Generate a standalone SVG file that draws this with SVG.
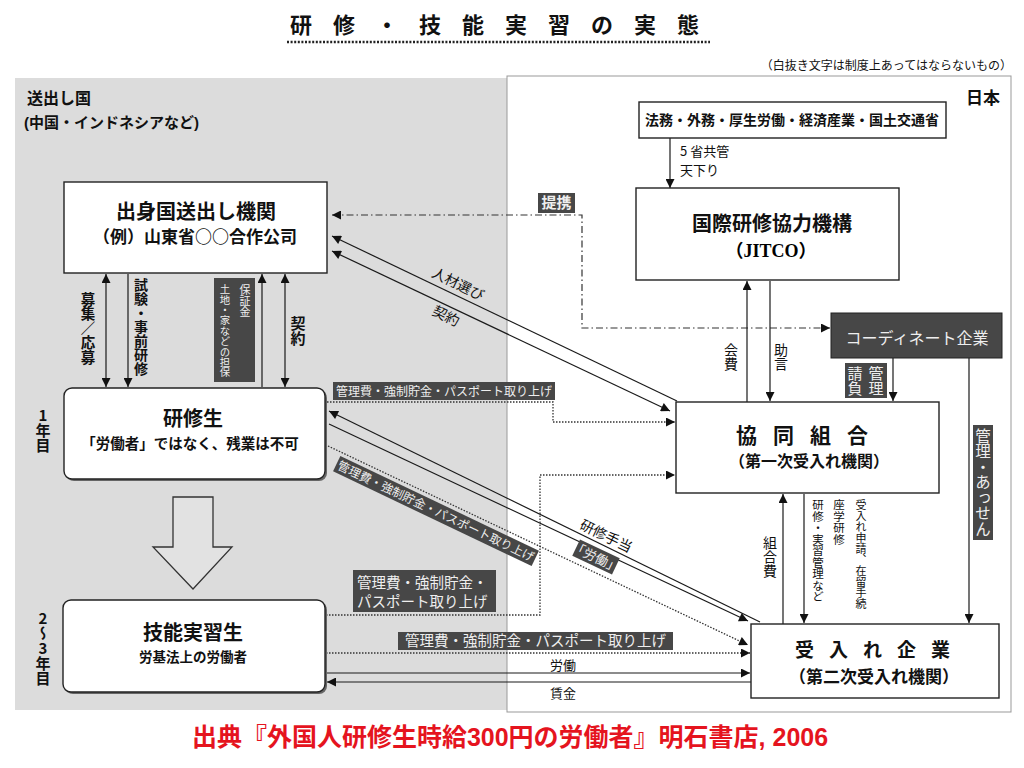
<svg xmlns="http://www.w3.org/2000/svg" width="1024" height="768" viewBox="0 0 1024 768">
<defs>
<style>
.t{font-family:"Noto Sans CJK JP","Liberation Serif",serif;fill:#111}
.s{font-family:"Liberation Sans","Noto Sans CJK JP",sans-serif;fill:#111}
.lat{font-family:"Liberation Serif","Noto Sans CJK JP",serif}
.b{font-weight:bold}
.v{writing-mode:vertical-rl;text-orientation:upright}
.m{text-anchor:middle}
.w{fill:#eee}
.dk{fill:#474747}
.box{fill:#fff;stroke:#222;stroke-width:1.4}
.ln{fill:none;stroke:#1a1a1a;stroke-width:1.2}
.dot{fill:none;stroke:#333;stroke-width:1.3;stroke-dasharray:1.5 1.5}
.dd{fill:none;stroke:#333;stroke-width:1.2;stroke-dasharray:7 3 1.5 3}
</style>
<marker id="ah" viewBox="0 0 10 10" refX="10" refY="5" markerWidth="11" markerHeight="9" markerUnits="userSpaceOnUse" orient="auto-start-reverse">
<path d="M0,0 L10,5 L0,10 z" fill="#111"/>
</marker>
</defs>
<rect width="1024" height="768" fill="#fff"/>

<!-- title -->
<g id="title">
<text class="s b" x="290" y="33" font-size="22" letter-spacing="21">研修・技能実習の実態</text>
<line x1="287" y1="42" x2="710" y2="42" stroke="#222" stroke-width="2.5" stroke-dasharray="2 1.6"/>
<text class="s" x="1012" y="70" font-size="12" text-anchor="end">（白抜き文字は制度上あってはならないもの）</text>
</g>

<!-- regions -->
<g id="region-sending">
<rect x="15" y="78" width="492" height="632" fill="#dcdcdc"/>
<text class="s b" x="27" y="104" font-size="16">送出し国</text>
<text class="s b" x="24" y="128" font-size="15">(中国・インドネシアなど)</text>
</g>
<g id="region-japan">
<rect x="507" y="76" width="504" height="636" fill="#fff" stroke="#999" stroke-width="1"/>
<text class="s b" x="966" y="104" font-size="17">日本</text>
</g>

<!-- connectors -->
<g id="connectors">
<path class="dd" d="M332,215 H582 V328 H830" marker-start="url(#ah)" marker-end="url(#ah)"/>
<path class="ln" d="M677,401 L332,236" marker-end="url(#ah)"/>
<path class="ln" d="M332,251 L670,411" marker-start="url(#ah)" marker-end="url(#ah)"/>
<path class="ln" d="M760,622 L329,411" marker-end="url(#ah)"/>
<path class="ln" d="M329,424 L748,621" marker-end="url(#ah)"/>
<path class="dot" d="M328,446 L748,645" marker-end="url(#ah)"/>
<path class="dot" d="M327,402 H553 V422 H675" marker-end="url(#ah)"/>
<path class="dot" d="M326,615 H540 V475 H675" marker-end="url(#ah)"/>
<path class="dot" d="M326,653 H750" marker-end="url(#ah)"/>
<path class="ln" d="M326,673 H750" marker-end="url(#ah)"/>
<path class="ln" d="M751,682 H327" marker-end="url(#ah)"/>
<path class="ln" d="M106,274 V387" marker-start="url(#ah)" marker-end="url(#ah)"/>
<path class="ln" d="M128,274 V387" marker-end="url(#ah)"/>
<path class="ln" d="M262,387 V274" marker-end="url(#ah)"/>
<path class="ln" d="M285,274 V387" marker-start="url(#ah)" marker-end="url(#ah)"/>
<path class="ln" d="M670,138 V188" marker-end="url(#ah)"/>
<path class="ln" d="M747,402 V281" marker-end="url(#ah)"/>
<path class="ln" d="M770,281 V401" marker-end="url(#ah)"/>
<path class="ln" d="M893,358 V401" marker-end="url(#ah)"/>
<path class="ln" d="M969,358 V623" marker-end="url(#ah)"/>
<path class="ln" d="M783,624 V494" marker-end="url(#ah)"/>
<path class="ln" d="M804,494 V623" marker-end="url(#ah)"/>
<polygon points="173,497 213,497 213,547 232,547 193,589 153,547 173,547" fill="#e2e2e2" stroke="#333" stroke-width="1.3"/>
</g>

<!-- connector labels -->
<g id="labels">
<text class="t b v" x="88" y="292" font-size="14.5">募集／応募</text>
<text class="t b v" x="141" y="278" font-size="14">試験・事前研修</text>
<rect class="dk" x="214" y="278" width="41" height="104"/>
<text class="t v w" x="245" y="284" font-size="11">保証金</text>
<text class="t v w" x="225" y="284" font-size="10.4">土地・家などの担保</text>
<text class="t b v" x="298" y="316" font-size="15">契約</text>
<text class="t b v" x="43" y="408" font-size="15">1年目</text>
<text class="t b v" x="43" y="611" font-size="15">2〜3年目</text>

<rect class="dk" x="538" y="193" width="37" height="20"/>
<text class="t b w m" x="556.5" y="208" font-size="15">提携</text>
<text class="t" x="680" y="156" font-size="13">5 省共管</text>
<text class="t" x="680" y="175" font-size="13">天下り</text>
<text class="t v" x="731" y="343" font-size="14">会費</text>
<text class="t v" x="781" y="343" font-size="14">助言</text>
<rect class="dk" x="845" y="363" width="42" height="35"/>
<text class="t v w" x="876" y="366" font-size="15">管理</text>
<text class="t v w" x="855" y="366" font-size="15">請負</text>
<rect class="dk" x="973" y="425" width="20" height="115"/>
<text class="t v w" x="983" y="428" font-size="15.5">管理・あっせん</text>
<text class="t v" x="770" y="536" font-size="14">組合費</text>
<text class="t v" x="818" y="499" font-size="11.5">研修・実習管理など</text>
<text class="t v" x="839" y="499" font-size="11.5">座学研修</text>
<text class="t v" x="861" y="499" font-size="11">受入れ申請、在留手続</text>

<g transform="translate(458,284) rotate(26)"><text class="t m" y="5" font-size="14">人材選び</text></g>
<g transform="translate(446,316) rotate(26)"><text class="t m" y="5" font-size="14">契約</text></g>
<g transform="translate(606,536) rotate(26)"><text class="t m" y="5" font-size="14">研修手当</text></g>
<g transform="translate(596,557) rotate(25.5)"><rect class="dk" x="-22" y="-9" width="44" height="18"/><text class="t w m" y="5" font-size="13">「労働」</text></g>
<g transform="translate(436,511) rotate(25.5)"><rect class="dk" x="-110" y="-8.5" width="220" height="17"/><text class="t w m" y="4.5" font-size="12">管理費・強制貯金・パスポート取り上げ</text></g>

<rect class="dk" x="333" y="382" width="222" height="18"/>
<text class="t w m" x="444" y="396" font-size="12">管理費・強制貯金・パスポート取り上げ</text>
<rect class="dk" x="353" y="570" width="143" height="42"/>
<text class="s w" x="357" y="588" font-size="14.5">管理費・強制貯金・</text>
<text class="s w" x="357" y="607" font-size="14.5">パスポート取り上げ</text>
<rect class="dk" x="398" y="632" width="275" height="18"/>
<text class="s w m" x="535.5" y="646" font-size="14.5">管理費・強制貯金・パスポート取り上げ</text>
<text class="t m" x="563" y="670" font-size="13">労働</text>
<text class="t m" x="563" y="698" font-size="13">賃金</text>
</g>

<!-- nodes -->
<g id="node-sending-org">
<rect class="box" x="64" y="182" width="263" height="91"/>
<text class="t b m" x="196" y="219" font-size="20">出身国送出し機関</text>
<text class="t b m" x="195" y="243" font-size="17">（例）山東省○○合作公司</text>
</g>
<g id="node-trainee">
<rect x="66" y="390" width="261" height="91" rx="8" fill="#666"/>
<rect class="box" x="64" y="388" width="261" height="91" rx="8"/>
<text class="t b m" x="193" y="426" font-size="20">研修生</text>
<text class="t b m" x="190" y="449" font-size="14.5">「労働者」ではなく、残業は不可</text>
</g>
<g id="node-intern">
<rect x="65" y="602" width="262" height="92" rx="8" fill="#666"/>
<rect class="box" x="63" y="600" width="262" height="92" rx="8"/>
<text class="t b m" x="193" y="640" font-size="20">技能実習生</text>
<text class="t b m" x="193" y="662" font-size="13.5">労基法上の労働者</text>
</g>
<g id="node-ministries">
<rect class="box" x="639" y="102" width="307" height="36"/>
<text class="t b m" x="792" y="125" font-size="14">法務・外務・厚生労働・経済産業・国土交通省</text>
</g>
<g id="node-jitco">
<rect class="box" x="636" y="188" width="263" height="92"/>
<text class="t b m" x="772" y="231" font-size="20">国際研修協力機構</text>
<text class="lat b m" x="771" y="257" font-size="18">（JITCO）</text>
</g>
<g id="node-coordinator">
<rect x="831" y="313" width="171" height="45" fill="#474747" stroke="#222"/>
<text class="s w m" x="917" y="344" font-size="16">コーディネート企業</text>
</g>
<g id="node-cooperative">
<rect class="box" x="676" y="402" width="263" height="91"/>
<text class="t b m" x="810" y="443" font-size="21" letter-spacing="16">協同組合</text>
<text class="t b m" x="809" y="467" font-size="16">（第一次受入れ機関）</text>
</g>
<g id="node-company">
<rect class="box" x="751" y="624" width="248" height="74"/>
<text class="t b m" x="880" y="657" font-size="19" letter-spacing="15">受入れ企業</text>
<text class="t b m" x="874" y="683" font-size="17">（第二次受入れ機関）</text>
</g>

<g id="caption">
<text class="s b m" x="510" y="746" font-size="25" style="fill:#e5141e">出典『外国人研修生時給300円の労働者』明石書店, 2006</text>
</g>
</svg>
